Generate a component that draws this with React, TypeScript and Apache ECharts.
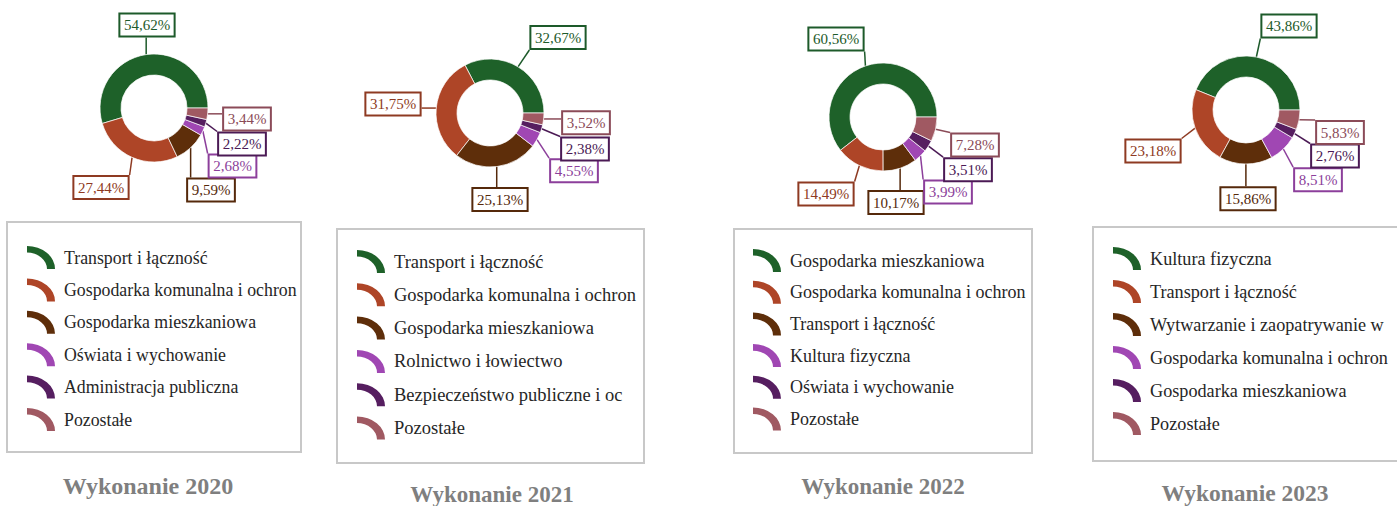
import React, { useEffect, useRef } from 'react';
import * as echarts from 'echarts';

// ---------- DATA ----------
const categories2020 = [
  'Transport i łączność',
  'Gospodarka komunalna i ochrona środowiska',
  'Gospodarka mieszkaniowa',
  'Oświata i wychowanie',
  'Administracja publiczna',
  'Pozostałe',
];
const values2020 = [54.62, 27.44, 9.59, 2.68, 2.22, 3.44];

const categories2021 = [
  'Transport i łączność',
  'Gospodarka komunalna i ochrona środowiska',
  'Gospodarka mieszkaniowa',
  'Rolnictwo i łowiectwo',
  'Bezpieczeństwo publiczne i ochrona przeciwpożarowa',
  'Pozostałe',
];
const values2021 = [32.67, 31.75, 25.13, 4.55, 2.38, 3.52];

const categories2022 = [
  'Gospodarka mieszkaniowa',
  'Gospodarka komunalna i ochrona środowiska',
  'Transport i łączność',
  'Kultura fizyczna',
  'Oświata i wychowanie',
  'Pozostałe',
];
const values2022 = [60.56, 14.49, 10.17, 3.99, 3.51, 7.28];

const categories2023 = [
  'Kultura fizyczna',
  'Transport i łączność',
  'Wytwarzanie i zaopatrywanie w energię elektryczną, gaz i wodę',
  'Gospodarka komunalna i ochrona środowiska',
  'Gospodarka mieszkaniowa',
  'Pozostałe',
];
const values2023 = [43.86, 23.18, 15.86, 8.51, 2.76, 5.83];

const titles = ['Wykonanie 2020', 'Wykonanie 2021', 'Wykonanie 2022', 'Wykonanie 2023'];

// ---------- STYLE / LAYOUT ----------
const SERIF = '"Liberation Serif", "Times New Roman", serif';
const SLICE_COLORS = ['#1e6129', '#ae4527', '#5e2e0a', '#a047b3', '#561e60', '#a05962'];
const LABEL_COLORS = ['#1d5a2a', '#8e3a22', '#55290b', '#8c3f9b', '#4b1a55', '#8b4b58'];
const ICON = 'path://M0,0 A28,28 0 0 1 28,28 L20,28 A20,20 0 0 0 0,8 Z';

const PANELS = [
  {
    cats: categories2020, vals: values2020, title: titles[0],
    center: [154, 108], box: [7, 222, 294, 230],
    legendLeft: 27, legendTop: 246, legendGap: 9.4, textWidth: 239, legendFont: 17.8,
    titlePos: [148, 486], titleFont: 24,
    labelOffsets: [[-7, -83], [-53, 79.5], [57, 82], [78.5, 58], [88, 36], [93, 11]],
  },
  {
    cats: categories2021, vals: values2021, title: titles[1],
    center: [490, 113], box: [337, 229, 307, 234],
    legendLeft: 357, legendTop: 250, legendGap: 10.3, textWidth: 247, legendFont: 18.5,
    titlePos: [492, 494], titleFont: 23,
    labelOffsets: [[68, -75.5], [-97, -9], [10, 86.5], [84, 57.7], [95, 36], [96, 9.7]],
  },
  {
    cats: categories2022, vals: values2022, title: titles[2],
    center: [883, 117], box: [734, 229, 298, 224],
    legendLeft: 753, legendTop: 249, legendGap: 8.7, textWidth: 238, legendFont: 18,
    titlePos: [883, 486], titleFont: 23,
    labelOffsets: [[-47, -78], [-57, 77], [13, 85.5], [65, 75], [85, 52.7], [92, 28]],
  },
  {
    cats: categories2023, vals: values2023, title: titles[3],
    center: [1246, 110], box: [1093, 227, 310, 234],
    legendLeft: 1113, legendTop: 247, legendGap: 10, textWidth: 242, legendFont: 18.2,
    titlePos: [1245, 493], titleFont: 23.5,
    labelOffsets: [[43, -84], [-93, 41], [2, 88.7], [72, 69.7], [89, 46], [94, 22.5]],
  },
];

const fmt = (v: number) => v.toFixed(2).replace('.', ',') + '%';

function buildOption() {
  const series = PANELS.map((p) => ({
    type: 'pie',
    center: p.center,
    radius: [33, 54],
    startAngle: 0,
    clockwise: false,
    avoidLabelOverlap: false,
    silent: true,
    itemStyle: { borderColor: 'rgba(255,255,255,0.7)', borderWidth: 1 },
    label: {
      show: true,
      position: 'outside',
      formatter: (q: any) => fmt(q.value),
      fontFamily: SERIF,
      fontSize: 15,
      lineHeight: 17,
      backgroundColor: '#fff',
      borderWidth: 2,
      padding: [2, 3.5],
    },
    labelLine: { show: true, length: 10, length2: 10, lineStyle: { width: 1.5 } },
    labelLayout: (q: any) => {
      const off = p.labelOffsets[q.dataIndex];
      const x = p.center[0] + off[0];
      const y = p.center[1] + off[1];
      const w = q.labelRect.width;
      const h = q.labelRect.height;
      const s = q.labelLinePoints && q.labelLinePoints[0] ? q.labelLinePoints[0] : [x, y];
      const ex = Math.min(Math.max(s[0], x - w / 2), x + w / 2);
      const ey = Math.min(Math.max(s[1], y - h / 2), y + h / 2);
      return {
        x,
        y,
        align: 'center',
        verticalAlign: 'middle',
        labelLinePoints: [[s[0], s[1]], [ex, ey]],
      };
    },
    data: p.cats.map((name, i) => ({
      name,
      value: p.vals[i],
      itemStyle: { color: SLICE_COLORS[i] },
      label: { color: LABEL_COLORS[i], borderColor: LABEL_COLORS[i] },
      labelLine: { lineStyle: { color: LABEL_COLORS[i] } },
    })),
  }));

  const legend = PANELS.map((p) => ({
    orient: 'vertical',
    left: p.legendLeft,
    top: p.legendTop,
    itemGap: p.legendGap,
    itemWidth: 28,
    itemHeight: 23,
    symbolKeepAspect: false,
    padding: 0,
    selectedMode: false,
    icon: ICON,
    itemStyle: { borderWidth: 0 },
    textStyle: {
      fontFamily: SERIF,
      fontSize: p.legendFont,
      color: '#262626',
      width: p.textWidth,
      overflow: 'truncate',
      ellipsis: '',
      padding: [0, 0, 0, 4],
    },
    data: p.cats.map((name, i) => ({ name, icon: ICON, itemStyle: { color: SLICE_COLORS[i], borderWidth: 0 } })),
  }));

  const elements: any[] = [];
  PANELS.forEach((p) => {
    elements.push({
      type: 'rect',
      z: 1,
      shape: { x: p.box[0], y: p.box[1], width: p.box[2], height: p.box[3] },
      style: { fill: 'none', stroke: '#c8c8c8', lineWidth: 2 },
    });
    elements.push({
      type: 'text',
      z: 1,
      x: p.titlePos[0],
      y: p.titlePos[1],
      style: {
        text: p.title,
        fill: '#7f7f7f',
        font: `bold ${p.titleFont}px ${SERIF}`,
        align: 'center',
        verticalAlign: 'middle',
        textAlign: 'center',
        textVerticalAlign: 'middle',
      },
    });
  });

  return {
    animation: false,
    backgroundColor: '#fff',
    legend,
    series,
    graphic: { elements },
  };
}

export default function App() {
  const ref = useRef<HTMLDivElement>(null);
  useEffect(() => {
    const chart = echarts.init(ref.current!, null, { renderer: 'svg' });
    chart.setOption(buildOption() as any);
    return () => chart.dispose();
  }, []);
  return (
    <div
      ref={ref}
      style={{ position: 'absolute', left: 0, top: 0, width: 1397, height: 506, background: '#fff' }}
    />
  );
}
